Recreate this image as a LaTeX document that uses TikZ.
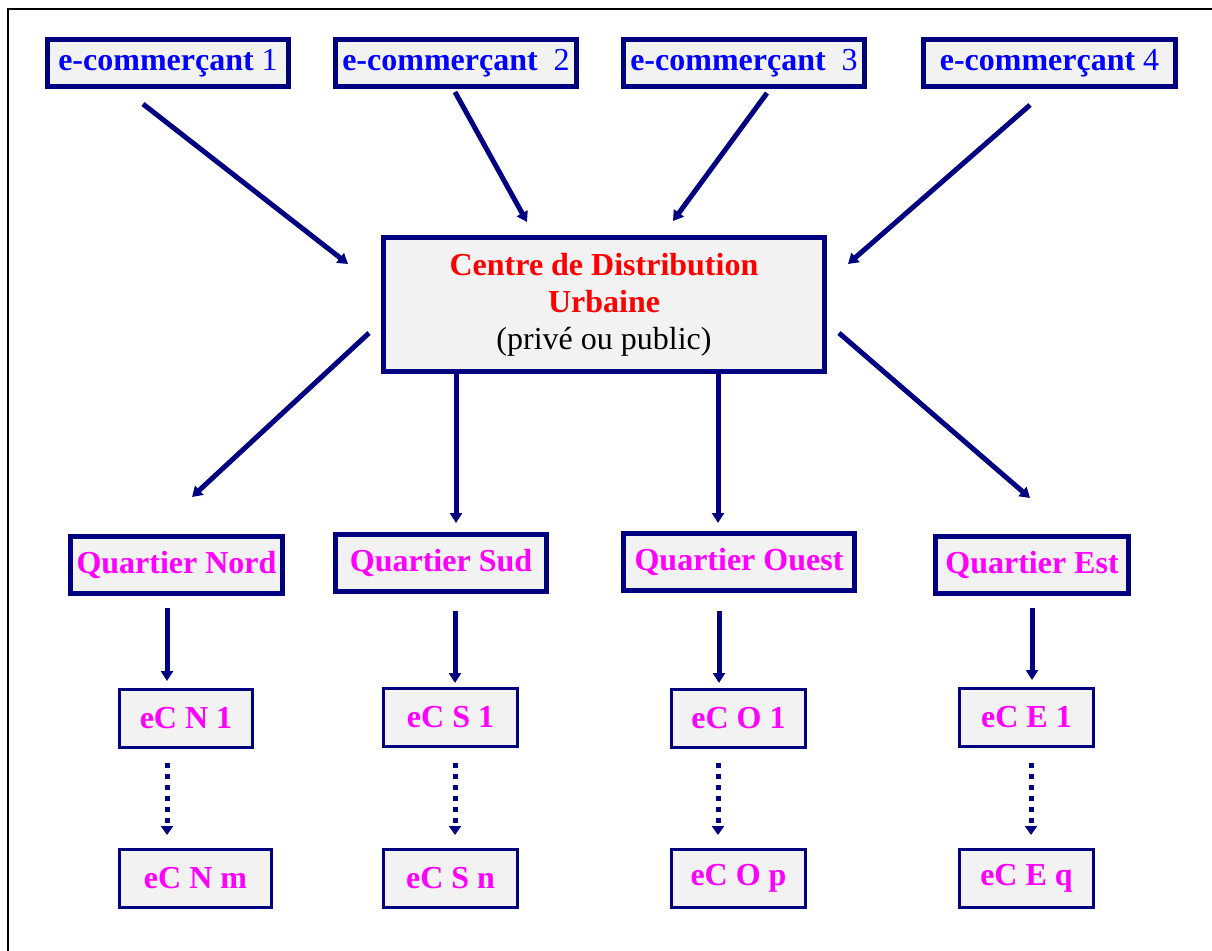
\documentclass[tikz,border=0pt]{standalone}
\usepackage{fontspec}
\setmainfont{Liberation Serif}
\usetikzlibrary{arrows.meta}
\definecolor{navy}{RGB}{0,0,128}
\definecolor{boxgray}{RGB}{242,242,242}
\definecolor{tblue}{RGB}{0,0,255}
\definecolor{tmag}{RGB}{255,0,255}
\definecolor{tred}{RGB}{255,0,0}
\tikzset{
  box/.style={draw=navy, fill=boxgray, inner sep=0pt, outer sep=0pt, align=center},
  merch/.style={box, line width=5pt, minimum height=47pt, text=tblue, font=\fontsize{32}{38}\selectfont},
  cdubox/.style={box, line width=5pt, font=\fontsize{32}{37}\selectfont},
  quart/.style={box, line width=5pt, minimum height=57pt, text=tmag, font=\fontsize{32}{37}\selectfont\bfseries},
  ecbox/.style={box, line width=3pt, minimum height=58pt, minimum width=134pt, text=tmag, font=\fontsize{32}{37}\selectfont\bfseries},
  arr/.style={draw=navy, line width=5pt, -{Triangle[width=12pt,length=10pt]}},
  dotarr/.style={draw=navy, line width=5pt, dash pattern=on 5pt off 6pt, -{Triangle[width=12pt,length=9pt]}}
}
\begin{document}
\begin{tikzpicture}[x=1pt,y=-1pt]
\useasboundingbox (0,0) rectangle (1212,950);
\draw[line width=2pt, black] (8,952) -- (8,9) -- (1214,9);

% merchants
\node[merch, minimum width=241pt] (e1) at (168,63) {\textbf{e-commerçant} 1};
\node[merch, minimum width=241pt] (e2) at (456,63) {\textbf{e-commerçant}\ \ 2};
\node[merch, minimum width=241pt] (e3) at (744,63) {\textbf{e-commerçant}\ \ 3};
\node[merch, minimum width=252pt] (e4) at (1049.5,63) {\textbf{e-commerçant} 4};

% centre
\node[cdubox, minimum width=441pt, minimum height=134pt] (cdu) at (604,304.5)
  {{\color{tred}\bfseries Centre de Distribution}\\{\color{tred}\bfseries Urbaine}\\(privé ou public)};

% quartiers
\node[quart, minimum width=212pt] (qn) at (176.5,564.5) {Quartier Nord};
\node[quart, minimum width=211pt] (qs) at (441,562.5) {Quartier Sud};
\node[quart, minimum width=231pt] (qo) at (739,562) {Quartier Ouest};
\node[quart, minimum width=193pt] (qe) at (1032,564.5) {Quartier Est};

% eC boxes
\node[ecbox, minimum width=133pt] (n1) at (186,718) {eC N 1};
\node[ecbox] (s1) at (450.5,717.5) {eC S 1};
\node[ecbox] (o1) at (738.5,718) {eC O 1};
\node[ecbox] (f1) at (1026.5,717.5) {eC E 1};
\node[ecbox, minimum width=152pt] (nm) at (195.5,878.5) {eC N m};
\node[ecbox] (sn) at (450.5,878.5) {eC S n};
\node[ecbox] (op) at (738.5,878.5) {eC O p};
\node[ecbox] (eq) at (1026.5,878.5) {eC E q};

% connector end points
\coordinate (a1s) at (143,104); \coordinate (a1e) at (348,264);
\coordinate (a2s) at (455,92);  \coordinate (a2e) at (527,222);
\coordinate (a3s) at (767,93);  \coordinate (a3e) at (673,221);
\coordinate (a4s) at (1030,105); \coordinate (a4e) at (848,264);
\coordinate (b1s) at (369,333); \coordinate (b1e) at (192,497);
\coordinate (b2s) at (456,374); \coordinate (b2e) at (456,523);
\coordinate (b3s) at (718,374); \coordinate (b3e) at (718,523);
\coordinate (b4s) at (839,333); \coordinate (b4e) at (1030,498);
\coordinate (c1s) at (167,608); \coordinate (c1e) at (167,681);
\coordinate (c2s) at (455,611); \coordinate (c2e) at (455,683);
\coordinate (c3s) at (719,611); \coordinate (c3e) at (719,683);
\coordinate (c4s) at (1032,608); \coordinate (c4e) at (1032,680);
\coordinate (d1s) at (167,763); \coordinate (d1e) at (167,835);
\coordinate (d2s) at (455,763); \coordinate (d2e) at (455,835);
\coordinate (d3s) at (718,763); \coordinate (d3e) at (718,835);
\coordinate (d4s) at (1031,763); \coordinate (d4e) at (1031,835);

\draw[arr] (a1s) -- (a1e);
\draw[arr] (a2s) -- (a2e);
\draw[arr] (a3s) -- (a3e);
\draw[arr] (a4s) -- (a4e);
\draw[arr] (b1s) -- (b1e);
\draw[arr] (b2s) -- (b2e);
\draw[arr] (b3s) -- (b3e);
\draw[arr] (b4s) -- (b4e);
\draw[arr] (c1s) -- (c1e);
\draw[arr] (c2s) -- (c2e);
\draw[arr] (c3s) -- (c3e);
\draw[arr] (c4s) -- (c4e);
\draw[dotarr] (d1s) -- (d1e);
\draw[dotarr] (d2s) -- (d2e);
\draw[dotarr] (d3s) -- (d3e);
\draw[dotarr] (d4s) -- (d4e);
\end{tikzpicture}
\end{document}
